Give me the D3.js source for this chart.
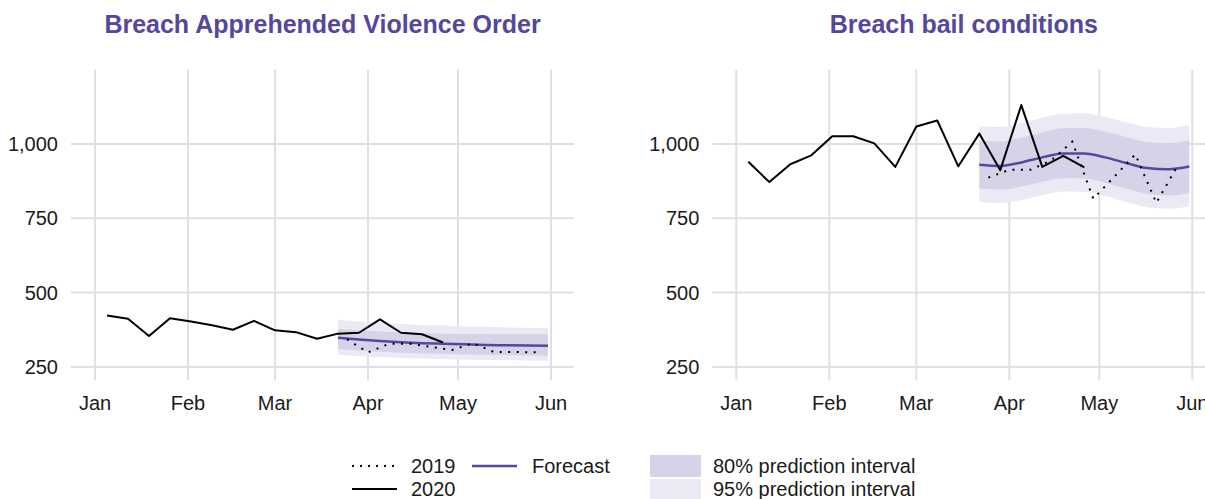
<!DOCTYPE html>
<html>
<head>
<meta charset="utf-8">
<script src="https://cdn.jsdelivr.net/npm/d3@7"></script>
<style>
    body { margin: 0; background: #fff; }
    text { font-family: 'Liberation Sans', Arial, sans-serif; }
</style>
</head>
<body>
<script>
// Data (weekly counts)
const titles = ['Breach Apprehended Violence Order', 'Breach bail conditions'];
const monthTicks = ['2020-01-01', '2020-02-01', '2020-03-01', '2020-04-01', '2020-05-01', '2020-06-01'];
const yTicks = [250, 500, 750, 1000];

const dates2020 = ['2020-01-05', '2020-01-12', '2020-01-19', '2020-01-26', '2020-02-02', '2020-02-09',
    '2020-02-16', '2020-02-23', '2020-03-01', '2020-03-08', '2020-03-15', '2020-03-22', '2020-03-29',
    '2020-04-05', '2020-04-12', '2020-04-19', '2020-04-26'];
const avo2020 = [423, 412, 354, 414, 403, 390, 375, 405, 373, 367, 345, 362, 365, 410, 365, 360, 332];
const bail2020 = [940, 872, 932, 962, 1026, 1026, 1002, 923, 1059, 1079, 925, 1035, 912, 1131, 923, 960, 921];

const dates2019 = ['2020-03-25', '2020-04-01', '2020-04-08', '2020-04-15', '2020-04-22', '2020-04-29',
    '2020-05-06', '2020-05-13', '2020-05-20', '2020-05-27'];
const avo2019 = [343, 299, 328, 328, 317, 307, 330, 300, 300, 299];
const bail2019 = [887, 913, 913, 945, 1008, 816, 890, 965, 802, 925];

const forecastDates = ['2020-03-22', '2020-03-29', '2020-04-05', '2020-04-12', '2020-04-19', '2020-04-26',
    '2020-05-03', '2020-05-10', '2020-05-17', '2020-05-24', '2020-05-31'];
const avoForecast = [348, 342, 337, 333, 330, 328, 326, 324, 323, 322, 321];
const avoLo80 = [310, 305, 301, 298, 296, 294, 292, 291, 290, 289, 288];
const avoHi80 = [378, 373, 369, 366, 364, 362, 361, 361, 360, 360, 360];
const avoLo95 = [292, 287, 283, 280, 278, 276, 275, 274, 273, 272, 271];
const avoHi95 = [409, 403, 398, 394, 391, 389, 386, 385, 383, 382, 381];

const bailForecast = [930, 926, 938, 955, 968, 968, 955, 936, 919, 915, 924];
const bailLo80 = [851, 846, 857, 873, 885, 884, 870, 850, 832, 827, 835];
const bailHi80 = [1011, 1008, 1021, 1039, 1053, 1054, 1041, 1023, 1007, 1003, 1013];
const bailLo95 = [806, 801, 812, 828, 840, 839, 825, 805, 787, 782, 791];
const bailHi95 = [1060, 1057, 1070, 1088, 1102, 1103, 1091, 1073, 1057, 1054, 1064];

const legendLabels = ['2019', '2020', 'Forecast', '80% prediction interval', '95% prediction interval'];

// Styles
const width = 1205;
const height = 499;
const purple = '#55479b';
const band80 = '#d6d2e8';
const band95 = '#ebe9f4';
const gridColor = '#dae1e7';
const panelShift = [0, 641.3];

const parse = d3.utcParse('%Y-%m-%d');

const svg = d3.select('body')
.append('svg')
.attr('width', width)
.attr('height', height);

const xScale = d3.scaleUtc()
.domain([parse('2019-12-24'), new Date(Date.UTC(2020, 5, 8, 16))])
.range([71, 574]);

const yScale = d3.scaleLinear()
.domain([205, 1250])
.range([380.3, 69.7]);

const panels = [
    { actual: avo2020, last: avo2019, fc: avoForecast, lo80: avoLo80, hi80: avoHi80, lo95: avoLo95, hi95: avoHi95 },
    { actual: bail2020, last: bail2019, fc: bailForecast, lo80: bailLo80, hi80: bailHi80, lo95: bailLo95, hi95: bailHi95 }
];

function drawPanel(p, i) {
    const g = svg.append('g').attr('transform', `translate(${ panelShift[i] },0)`);
    const [x0, x1] = xScale.range();
    const [y0, y1] = yScale.range();

    // grid
    g.selectAll('.hgrid')
    .data(yTicks)
    .enter()
    .append('line')
    .attr('x1', x0).attr('x2', x1)
    .attr('y1', d => yScale(d)).attr('y2', d => yScale(d))
    .attr('stroke', gridColor)
    .attr('stroke-width', 2);

    g.selectAll('.vgrid')
    .data(monthTicks)
    .enter()
    .append('line')
    .attr('x1', d => xScale(parse(d))).attr('x2', d => xScale(parse(d)))
    .attr('y1', y0).attr('y2', y1)
    .attr('stroke', gridColor)
    .attr('stroke-width', 2);

    // axis labels
    g.selectAll('.ylab')
    .data(yTicks)
    .enter()
    .append('text')
    .text(d => d3.format(',')(d))
    .attr('x', x0 - 13)
    .attr('y', d => yScale(d) + 7)
    .attr('text-anchor', 'end')
    .attr('font-size', '20px')
    .attr('fill', '#1a1a1a');

    g.selectAll('.xlab')
    .data(monthTicks)
    .enter()
    .append('text')
    .text(d => d3.utcFormat('%b')(parse(d)))
    .attr('x', d => xScale(parse(d)))
    .attr('y', 409.5)
    .attr('text-anchor', 'middle')
    .attr('font-size', '20px')
    .attr('fill', '#1a1a1a');

    g.append('text')
    .text(titles[i])
    .attr('x', (x0 + x1) / 2)
    .attr('y', 33)
    .attr('text-anchor', 'middle')
    .attr('font-size', '25px')
    .attr('font-weight', 'bold')
    .attr('fill', purple);

    // prediction bands
    const fcData = forecastDates.map((d, k) => ({ date: parse(d), fc: p.fc[k], lo80: p.lo80[k], hi80: p.hi80[k], lo95: p.lo95[k], hi95: p.hi95[k] }));

    const area95 = d3.area()
    .curve(d3.curveMonotoneX)
    .x(d => xScale(d.date))
    .y0(d => yScale(d.lo95))
    .y1(d => yScale(d.hi95));

    const area80 = d3.area()
    .curve(d3.curveMonotoneX)
    .x(d => xScale(d.date))
    .y0(d => yScale(d.lo80))
    .y1(d => yScale(d.hi80));

    g.append('path').datum(fcData).attr('d', area95).attr('fill', band95);
    g.append('path').datum(fcData).attr('d', area80).attr('fill', band80);

    const fcLine = d3.line()
    .curve(d3.curveMonotoneX)
    .x(d => xScale(d.date))
    .y(d => yScale(d.fc));

    g.append('path')
    .datum(fcData)
    .attr('d', fcLine)
    .attr('fill', 'none')
    .attr('stroke', purple)
    .attr('stroke-width', 2.5);

    const line = d3.line()
    .x(d => xScale(d.date))
    .y(d => yScale(d.v));

    g.append('path')
    .datum(dates2019.map((d, k) => ({ date: parse(d), v: p.last[k] })))
    .attr('d', line)
    .attr('fill', 'none')
    .attr('stroke', '#000')
    .attr('stroke-width', 2)
    .attr('stroke-dasharray', '2,6.5');

    g.append('path')
    .datum(dates2020.map((d, k) => ({ date: parse(d), v: p.actual[k] })))
    .attr('d', line)
    .attr('fill', 'none')
    .attr('stroke', '#000')
    .attr('stroke-width', 2)
    .attr('stroke-linejoin', 'round');
}

panels.forEach(drawPanel);

// Legend
const legend = svg.append('g');

legend.append('line')
.attr('x1', 352).attr('x2', 397).attr('y1', 466).attr('y2', 466)
.attr('stroke', '#000').attr('stroke-width', 2).attr('stroke-dasharray', '2,6');
legend.append('line')
.attr('x1', 352).attr('x2', 397).attr('y1', 489).attr('y2', 489)
.attr('stroke', '#000').attr('stroke-width', 2);
legend.append('line')
.attr('x1', 472).attr('x2', 517).attr('y1', 466).attr('y2', 466)
.attr('stroke', purple).attr('stroke-width', 2.5);
legend.append('rect')
.attr('x', 650).attr('y', 455).attr('width', 51).attr('height', 22)
.attr('fill', band80);
legend.append('rect')
.attr('x', 650).attr('y', 479).attr('width', 51).attr('height', 22)
.attr('fill', band95);

const legendPos = [[411, 473], [411, 496], [532, 473], [713, 473], [713, 496]];

legend.selectAll('text')
.data(legendLabels)
.enter()
.append('text')
.text(d => d)
.attr('x', (d, i) => legendPos[i][0])
.attr('y', (d, i) => legendPos[i][1])
.attr('font-size', '20px')
.attr('fill', '#1a1a1a');
</script>
</body>
</html>
